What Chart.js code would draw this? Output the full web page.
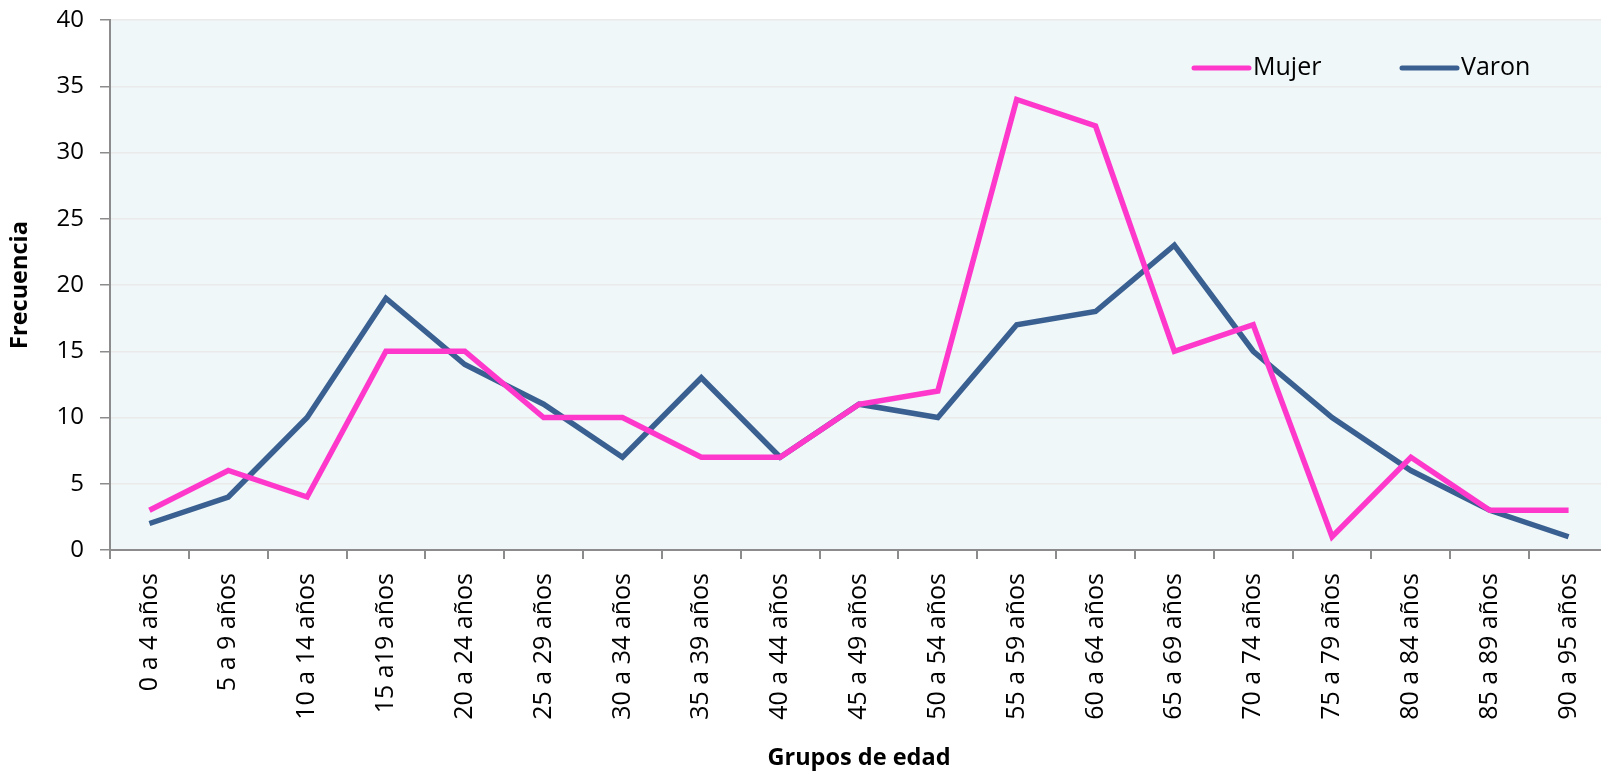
<!DOCTYPE html>
<html>
<head>
<meta charset="utf-8">
<script src="https://cdn.jsdelivr.net/npm/chart.js@4"></script>
<style>
html,body{margin:0;padding:0;background:#fff;overflow:hidden;width:1601px;height:772px;}
#wrap{width:1608px;height:772px;}
</style>
</head>
<body>
<div id="wrap"><canvas id="c" width="1608" height="772"></canvas></div>
<script>
const categories = ["0 a 4 años","5 a 9 años","10 a 14 años","15 a19 años","20 a 24 años","25 a 29 años","30 a 34 años","35 a 39 años","40 a 44 años","45 a 49 años","50 a 54 años","55 a 59 años","60 a 64 años","65 a 69 años","70 a 74 años","75 a 79 años","80 a 84 años","85 a 89 años","90 a 95 años"];
const mujer = [3,6,4,15,15,10,10,7,7,11,12,34,32,15,17,1,7,3,3];
const varon = [2,4,10,19,14,11,7,13,7,11,10,17,18,23,15,10,6,3,1];
const yTicks = [0,5,10,15,20,25,30,35,40];

const FONT = "'Open Sans', 'Liberation Sans', sans-serif";
const PINK = '#ff38cc';
const BLUE = '#3a6091';

const bgPlugin = {
  id: 'bg',
  beforeDraw(chart) {
    const {ctx, chartArea: a} = chart;
    ctx.save();
    ctx.fillStyle = '#eff7f9';
    ctx.fillRect(a.left, a.top, a.right - a.left, a.bottom - a.top);
    ctx.restore();
  }
};
const legendPlugin = {
  id: 'customLegend',
  afterDatasetsDraw(chart) {
    const ctx = chart.ctx;
    const items = [{x:1194, ds:0},{x:1402, ds:1}];
    const y = 68;
    ctx.save();
    items.forEach(it => {
      const d = chart.data.datasets[it.ds];
      ctx.strokeStyle = d.borderColor;
      ctx.lineWidth = 5;
      ctx.lineCap = 'round';
      ctx.beginPath();
      ctx.moveTo(it.x, y);
      ctx.lineTo(it.x + 55, y);
      ctx.stroke();
      ctx.fillStyle = '#000';
      ctx.font = "25px " + FONT;
      ctx.textBaseline = 'middle';
      ctx.textAlign = 'left';
      ctx.fillText(d.label, it.x + 59, y);
    });
    ctx.restore();
  }
};

new Chart(document.getElementById('c'), {
  type: 'line',
  data: {
    labels: categories,
    datasets: [
      {label:'Mujer', data: mujer, borderColor: PINK, backgroundColor: PINK, borderWidth: 5.5, pointRadius: 0, tension: 0, borderJoinStyle:'miter'},
      {label:'Varon', data: varon, borderColor: BLUE, backgroundColor: BLUE, borderWidth: 5.5, pointRadius: 0, tension: 0, borderJoinStyle:'miter'}
    ]
  },
  options: {
    responsive: false,
    animation: false,
    layout: {padding: {top: 20, right: 0, left: 0, bottom: 0}},
    plugins: {legend: {display: false}, tooltip: {enabled: false}},
    scales: {
      x: {
        offset: true,
        grid: {offset: true, drawOnChartArea: false, tickLength: 9, tickColor: '#8c8c8c', lineWidth: 2},
        border: {color: '#8c8c8c', width: 2},
        ticks: {color: '#000', font: {family: FONT, size: 25}, minRotation: 90, maxRotation: 90, padding: 14, autoSkip: false},
        title: {display: true, text: 'Grupos de edad', color: '#000', font: {family: FONT, size: 23.5, weight: 'bold'}, padding: {top: 10, bottom: 0}},
        afterFit: s => { s.height = 222; s.paddingLeft = 0; s.paddingRight = 0; }
      },
      y: {
        min: 0, max: 40,
        afterBuildTicks: s => { s.ticks = yTicks.map(v => ({value: v})); },
        grid: {color: '#ebeaea', lineWidth: 1.5, tickLength: 10, tickColor: '#8c8c8c', drawTicks: true},
        border: {color: '#8c8c8c', width: 2},
        ticks: {color: '#000', font: {family: FONT, size: 24}, padding: 16},
        title: {display: true, text: 'Frecuencia', color: '#000', font: {family: FONT, size: 23.5, weight: 'bold'}, padding: {top: 6, bottom: 4}},
        afterFit: s => { s.width = 110; s.paddingTop = 0; s.paddingBottom = 0; }
      }
    }
  },
  plugins: [bgPlugin, legendPlugin]
});
</script>
</body>
</html>
